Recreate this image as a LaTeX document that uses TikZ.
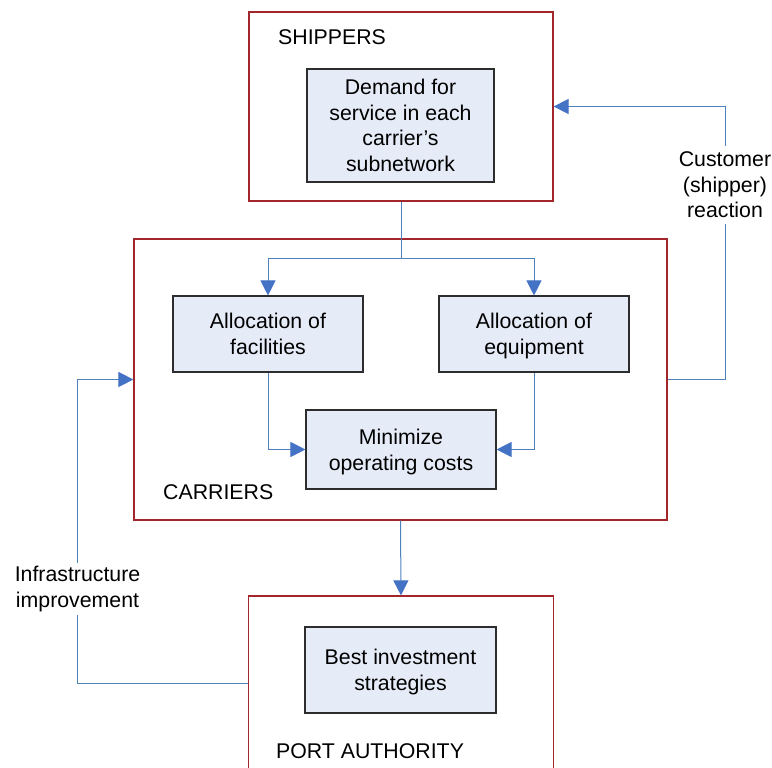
\documentclass[tikz,border=0pt]{standalone}
\usepackage{fontspec}
\setmainfont{Liberation Sans}
\usetikzlibrary{arrows.meta,positioning}
\definecolor{boxred}{RGB}{163,38,42}
\definecolor{taskfill}{RGB}{230,236,247}
\definecolor{taskline}{RGB}{45,45,45}
\definecolor{flowblue}{RGB}{79,129,189}
\definecolor{tipblue}{RGB}{68,114,196}

\begin{document}
\begin{tikzpicture}[x=1pt,y=-1pt,font=\fontsize{21.3}{25.6}\selectfont,
  group/.style={rectangle,draw=boxred,line width=1.2pt,inner sep=0},
  task/.style={rectangle,draw=taskline,fill=taskfill,line width=1.1pt,align=center,
    minimum width=190pt,minimum height=76pt,inner sep=0},
  caption/.style={anchor=west,inner sep=0},
  flow/.style={draw=flowblue,line width=1pt},
  arr/.style={-{Triangle[length=15pt,width=15pt,color=tipblue]}}]

  \useasboundingbox (0,0) rectangle (772,768);

  % shippers
  \node[group,minimum width=304pt,minimum height=189pt] (shippers) at (401,106.5) {};
  \node[caption] (shiplab) at (278,37) {SHIPPERS};
  \node[task,minimum width=187pt,minimum height=113pt] (demand) at (400.5,125.5)
    {Demand for\\service in each\\carrier's\\subnetwork};

  % carriers
  \node[group,minimum width=533pt,minimum height=281pt] (carriers) at (400.5,379.5) {};
  \node[caption] (carrlab) at (163,492) {CARRIERS};
  \node[task] (facil) at (268,334) {Allocation of\\facilities};
  \node[task] (equip) at (534,334) {Allocation of\\\smash{equipment}};
  \node[task,minimum height=79pt] (mincost) at (401,449.5) {Minimize\\\smash{operating costs}};

  % port authority
  \node[group,minimum width=304.5pt,minimum height=174pt] (port) at (401,683) {};
  \node[caption] (portlab) at (276,751) {PORT AUTHORITY};
  \node[task,minimum width=191pt,minimum height=86pt] (invest) at (400.5,670)
    {Best investment\\\smash{strategies}};

  % feedback labels
  \node[align=center,inner sep=5.5pt] (react) at (725,185) {Customer\\(shipper)\\reaction};
  \node[align=center,inner sep=3pt] (infra) at (77.5,589) {Infrastructure\\improvement};

  \coordinate (split) at (401,258);

  \draw[flow] (shippers.south) -- (split);
  \draw[flow,arr] (split) -| (facil.north);
  \draw[flow,arr] (split) -| (equip.north);
  \draw[flow,arr] (facil.south) |- (mincost.west);
  \draw[flow,arr] (equip.south) |- (mincost.east);
  \draw[flow,arr] (carriers.south) -- (port.north);
  \draw[flow] (carriers.east) -| (react.south);
  \draw[flow,arr] (react.north) |- (shippers.east);
  \draw[flow] (port.west) -| (infra.south);
  \draw[flow,arr] (infra.north) |- (carriers.west);
\end{tikzpicture}
\end{document}
